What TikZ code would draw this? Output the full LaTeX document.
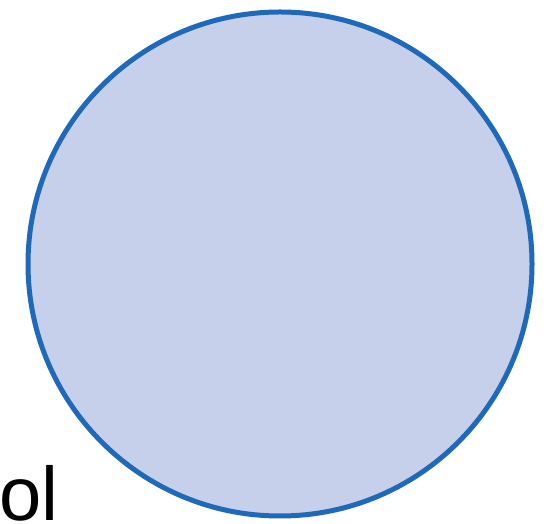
\documentclass[tikz,border=0pt]{standalone}
\usepackage{fontspec}
\setmainfont{Liberation Sans}
\usetikzlibrary{positioning}
\definecolor{ringblue}{RGB}{30,105,185}
\definecolor{discfill}{RGB}{199,208,234}
\tikzset{disc/.style = {circle, draw=ringblue, fill=discfill, line width=5pt,
                        inner sep=0, minimum size=504pt}}
\tikzset{bigtext/.style = {inner sep=0, anchor=base west,
                           font=\fontsize{76}{80}\selectfont}}

\begin{document}
\begin{tikzpicture}[x=1pt, y=1pt]
    \useasboundingbox (0,0) rectangle (559,524);
    \node[disc] (ball) at (280,260){};
    \node[bigtext] (lbl) at (-1,3){ol};
  \end{tikzpicture}
\end{document}
